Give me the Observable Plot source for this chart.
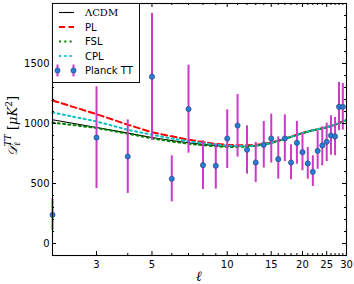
<!DOCTYPE html>
<html><head><meta charset="utf-8">
<script src="https://cdn.jsdelivr.net/npm/d3@7"></script>
<script src="https://cdn.jsdelivr.net/npm/@observablehq/plot@0.6"></script>
<style>body{margin:0;background:#fff} svg{display:block}</style>
</head><body><div id="chart"></div>
<script>
// theory curves, D_l^TT at integer multipoles
const ells = [2,3,4,5,6,7,8,9,10,11,12,13,14,15,16,17,18,19,20,21,22,23,24,25,26,27,28,29,30];
const lcdm = [1031,967,920,883,858,840,826,816,810,808,810,815,824,838,855,872,888,905,920,932,943,952,960,968,978,990,1003,1017,1031];
const pl   = [1192,1078,990,927,893,865,845,830,822,818,818,822,830,843,858,875,891,907,921,933,944,953,961,969,979,991,1004,1018,1032];
const fsl  = [1008,963,915,876,850,832,819,810,805,805,808,814,823,837,854,871,887,904,919,931,942,951,959,967,977,989,1002,1016,1030];
const cpl  = [1092,1017,948,906,875,852,836,824,816,812,812,816,825,839,856,873,889,906,921,933,944,953,961,969,979,991,1004,1018,1032];
// Planck TT low-l data
const planckL  = [2,3,4,5,6,7,8,9,10,11,12,13,14,15,16,17,18,19,20,21,22,23,24,25,26,27,28,29];
const planckD  = [239,883,725,1390,539,1120,653,648,875,983,781,675,822,875,703,875,675,839,761,667,597,772,817,847,900,892,1139,1139];
const planckLo = [106,458,417,860,347,753,450,453,625,720,578,508,628,670,536,683,531,661,606,536,475,619,647,683,736,731,939,945];
const planckHi = [372,1306,1030,1917,731,1486,856,828,1114,1242,981,842,1017,1078,889,1072,822,1017,917,800,731,939,972,1003,1064,1050,1342,1333];
// ticks
const xMajor = [3,5,10,15,20,25,30];
const xMinor = [2,4,6,7,8,9,11,12,13,14,16,17,18,19,21,22,23,24,26,27,28,29];
const yMajor = [0,500,1000,1500];
const yMinor = [100,200,300,400,600,700,800,900,1100,1200,1300,1400,1600,1700,1800,1900];
const legendLabels = ["\u039BCDM","PL","FSL","CPL","Planck TT"];

const W = 354, H = 284, mL = 52, mR = 8, mT = 3, mB = 29;
const pw = W - mL - mR, ph = H - mT - mB;

const series = [
  {name:"LCDM", vals:lcdm, stroke:"#000", sw:1.1, dash:null},
  {name:"PL", vals:pl, stroke:"#ff0000", sw:2, dash:"6,3.5"},
  {name:"FSL", vals:fsl, stroke:"#008000", sw:2, dash:"2,3.3"},
  {name:"CPL", vals:cpl, stroke:"#00bfbf", sw:2, dash:"2,3.3"}
];
const planck = planckL.map((l,i)=>({l, d:planckD[i], lo:planckLo[i], hi:planckHi[i]}));

const marks = [];
for (const s of series) {
  const tbl = ells.map((l,i)=>({l, v:s.vals[i]}));
  marks.push(Plot.line(tbl, {x:"l", y:"v", stroke:s.stroke, strokeWidth:s.sw, strokeDasharray:s.dash}));
}
marks.push(Plot.ruleX(planck, {x:"l", y1:"lo", y2:"hi", stroke:"#c83cc8", strokeWidth:2}));
marks.push(Plot.dot(planck, {x:"l", y:"d", r:2.6, fill:"#2b7bd6", stroke:"#1c3e6e", strokeWidth:0.6}));
// inward ticks
marks.push(Plot.tickX(xMajor, {x:d=>d, insetTop:ph-4, stroke:"#000"}));
marks.push(Plot.tickX(xMajor, {x:d=>d, insetBottom:ph-4, stroke:"#000"}));
marks.push(Plot.tickX(xMinor, {x:d=>d, insetTop:ph-2, stroke:"#000"}));
marks.push(Plot.tickX(xMinor, {x:d=>d, insetBottom:ph-2, stroke:"#000"}));
marks.push(Plot.tickY(yMajor, {y:d=>d, insetRight:pw-4, stroke:"#000"}));
marks.push(Plot.tickY(yMajor, {y:d=>d, insetLeft:pw-4, stroke:"#000"}));
marks.push(Plot.tickY(yMinor, {y:d=>d, insetRight:pw-2, stroke:"#000"}));
marks.push(Plot.tickY(yMinor, {y:d=>d, insetLeft:pw-2, stroke:"#000"}));
marks.push(Plot.axisX({ticks:xMajor, tickSize:0, tickPadding:5, tickFormat:d=>String(d), label:null}));
marks.push(Plot.axisY({ticks:yMajor, tickSize:0, tickPadding:3, tickFormat:d=>String(d), label:null}));
marks.push(Plot.frame({stroke:"#000", strokeWidth:1.1}));

const chart = Plot.plot({
  width:W, height:H, marginLeft:mL, marginRight:mR, marginTop:mT, marginBottom:mB,
  style:{fontFamily:"DejaVu Sans", fontSize:"10px", color:"#000", background:"#fff"},
  x:{type:"log", domain:[2,30]},
  y:{domain:[-100,2000]},
  marks
});
document.getElementById("chart").appendChild(chart);

const svg = d3.select(chart);
// legend
const g = svg.append("g").attr("text-anchor","start");
g.append("rect").attr("x",52.5).attr("y",3.5).attr("width",87).attr("height",79)
  .attr("fill","#fff").attr("stroke","#111").attr("stroke-width",1);
const rowY = [12.5,27,41.5,56,70.5];
series.forEach((s,i)=>{
  g.append("line").attr("x1",59).attr("x2",74).attr("y1",rowY[i]).attr("y2",rowY[i])
   .attr("stroke",s.stroke).attr("stroke-width",s.sw).attr("stroke-dasharray",s.dash);
});
[57.5,73.5].forEach(x=>{
  g.append("line").attr("x1",x).attr("x2",x).attr("y1",rowY[4]-6).attr("y2",rowY[4]+6)
   .attr("stroke","#c83cc8").attr("stroke-width",2);
  g.append("circle").attr("cx",x).attr("cy",rowY[4]).attr("r",2.6)
   .attr("fill","#2b7bd6").attr("stroke","#1c3e6e").attr("stroke-width",0.6);
});
legendLabels.forEach((t,i)=>{
  g.append("text").attr("x",85).attr("y",rowY[i]).attr("dy","0.35em")
   .attr("text-anchor","start")
   .attr("font-family", i===0 ? "DejaVu Serif" : "DejaVu Sans")
   .attr("font-size", 10).attr("fill","#000").text(t);
});
// axis labels
svg.append("text").attr("x", mL+pw/2).attr("y", 281).attr("text-anchor","middle")
  .attr("font-family","DejaVu Serif").attr("font-style","italic").attr("font-size",14).text("\u2113");
const yl = svg.append("text").attr("transform","translate(17,126) rotate(-90)")
  .attr("text-anchor","middle").attr("font-family","DejaVu Serif").attr("font-style","italic")
  .attr("font-size",13).attr("fill","#000");
yl.append("tspan").text("\uD835\uDC9F");
yl.append("tspan").attr("dy",3).attr("font-size",9).text("\u2113");
yl.append("tspan").attr("dx",-4).attr("dy",-9).attr("font-size",9).text("TT");
yl.append("tspan").attr("dy",6).attr("font-style","normal").text(" [");
yl.append("tspan").text("\u03BCK");
yl.append("tspan").attr("dy",-5).attr("font-size",9).attr("font-style","normal").text("2");
yl.append("tspan").attr("dy",5).attr("font-style","normal").text("]");
</script></body></html>
